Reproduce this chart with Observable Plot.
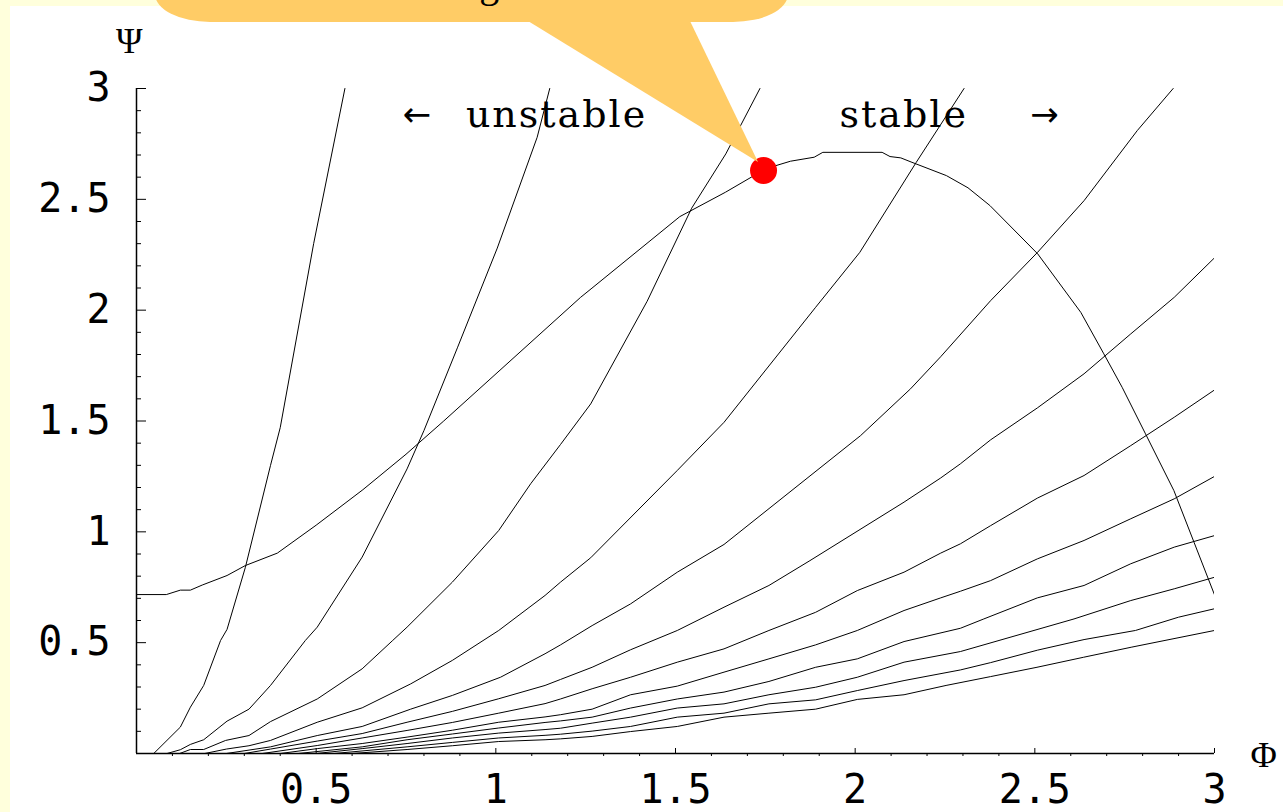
<!DOCTYPE html>
<html><head><meta charset="utf-8">
<script src="https://cdn.jsdelivr.net/npm/d3@7"></script>
<script src="https://cdn.jsdelivr.net/npm/@observablehq/plot@0.6"></script>
<style>
html,body{margin:0;padding:0;background:#ffffdc;overflow:hidden;width:1283px;height:812px;}
#panel{position:absolute;left:10px;top:6px;width:1273px;height:806px;background:#fff;}
#callout{position:absolute;left:0;top:0;pointer-events:none;}
</style></head><body>
<div id="panel"></div>
<svg id="callout" width="1283" height="812"></svg>
<script>
// tick values
const ticksMajor = [0.5, 1, 1.5, 2, 2.5, 3];
const ticksMinor = [0.1,0.2,0.3,0.4,0.6,0.7,0.8,0.9,1.1,1.2,1.3,1.4,1.6,1.7,1.8,1.9,2.1,2.2,2.3,2.4,2.6,2.7,2.8,2.9];

// stability boundary [Phi, Psi]
const boundary = [[0,0.717],[0.083,0.717],[0.122,0.737],[0.15,0.737],[0.183,0.76],[0.252,0.803],[0.303,0.848],[0.392,0.904],[0.50,1.03],[0.63,1.19],[0.75,1.35],[0.855,1.50],[1.236,2.058],[1.265,2.096],[1.512,2.422],[1.639,2.532],[1.711,2.60],[1.771,2.648],[1.82,2.672],[1.886,2.69],[1.91,2.712],[2.075,2.712],[2.097,2.693],[2.127,2.687],[2.158,2.667],[2.254,2.607],[2.314,2.552],[2.375,2.472],[2.508,2.254],[2.628,1.99],[2.692,1.803],[2.743,1.652],[2.808,1.442],[2.887,1.186],[2.943,0.953],[3.0,0.716]];

// fan of curves [Phi, Psi]
const fan1 = [[0,0],[0.048,0],[0.122,0.119],[0.15,0.209],[0.187,0.307],[0.234,0.51],[0.252,0.56],[0.303,0.84],[0.373,1.30],[0.40,1.47],[0.493,2.30],[0.58,3.0]];
const fan2 = [[0,0],[0.085,0],[0.122,0.017],[0.15,0.041],[0.187,0.062],[0.252,0.146],[0.313,0.2],[0.373,0.307],[0.47,0.51],[0.503,0.57],[0.628,0.886],[0.753,1.284],[0.80,1.457],[0.893,1.83],[1.004,2.28],[1.115,2.78],[1.15,3.0]];
const fan3 = [[0,0],[0.12,0],[0.15,0.018],[0.187,0.018],[0.248,0.059],[0.313,0.081],[0.373,0.144],[0.503,0.246],[0.628,0.382],[0.713,0.51],[0.753,0.57],[0.879,0.773],[1.008,1.006],[1.097,1.217],[1.18,1.394],[1.264,1.577],[1.421,2.04],[1.545,2.46],[1.64,2.705],[1.735,3.0]];
const fan4 = [[0,0],[0.19,0],[0.25,0.02],[0.313,0.035],[0.373,0.059],[0.503,0.141],[0.628,0.206],[0.763,0.314],[0.879,0.42],[1.008,0.555],[1.137,0.713],[1.18,0.773],[1.264,0.883],[1.505,1.277],[1.635,1.494],[1.89,2.013],[2.013,2.261],[2.17,2.667],[2.303,3.0]];
const fan5 = [[0,0],[0.25,0],[0.373,0.03],[0.503,0.081],[0.628,0.122],[0.763,0.2],[0.879,0.262],[1.013,0.344],[1.137,0.45],[1.18,0.49],[1.268,0.577],[1.375,0.675],[1.505,0.818],[1.635,0.943],[2.015,1.434],[2.154,1.645],[2.238,1.79],[2.377,2.043],[2.507,2.26],[2.637,2.494],[2.785,2.81],[2.885,3.0]];
const fan6 = [[0,0],[0.30,0],[0.373,0.02],[0.503,0.056],[0.628,0.09],[0.753,0.141],[0.879,0.19],[1.008,0.247],[1.137,0.307],[1.18,0.334],[1.268,0.389],[1.375,0.468],[1.505,0.555],[1.635,0.66],[1.76,0.758],[1.874,0.87],[2.136,1.134],[2.238,1.243],[2.293,1.307],[2.377,1.415],[2.507,1.559],[2.637,1.713],[2.767,1.893],[2.888,2.058],[3.0,2.236]];
const fan7 = [[0,0],[0.35,0],[0.503,0.036],[0.628,0.07],[0.753,0.104],[0.879,0.14],[1.008,0.182],[1.137,0.225],[1.18,0.246],[1.268,0.292],[1.375,0.344],[1.505,0.412],[1.635,0.472],[1.76,0.555],[1.89,0.637],[2.006,0.735],[2.136,0.818],[2.238,0.904],[2.293,0.946],[2.377,1.028],[2.507,1.152],[2.637,1.254],[2.767,1.389],[2.888,1.517],[3.0,1.64]];
const fan8 = [[0,0],[0.40,0],[0.503,0.022],[0.628,0.045],[0.753,0.074],[0.879,0.105],[1.008,0.141],[1.137,0.165],[1.18,0.175],[1.268,0.2],[1.375,0.265],[1.505,0.304],[1.635,0.367],[1.76,0.427],[1.89,0.49],[2.006,0.555],[2.136,0.645],[2.238,0.702],[2.293,0.732],[2.377,0.78],[2.507,0.878],[2.637,0.961],[2.767,1.059],[2.888,1.149],[3.0,1.25]];
const fan9 = [[0,0],[0.45,0],[0.628,0.03],[0.753,0.062],[0.879,0.088],[1.008,0.115],[1.137,0.14],[1.18,0.147],[1.268,0.164],[1.375,0.205],[1.505,0.246],[1.635,0.277],[1.76,0.325],[1.89,0.389],[2.006,0.427],[2.136,0.505],[2.293,0.565],[2.358,0.607],[2.507,0.702],[2.637,0.758],[2.767,0.856],[2.888,0.931],[3.0,0.983]];
const fan10 = [[0,0],[0.5,0],[0.628,0.022],[0.753,0.045],[0.879,0.07],[1.008,0.092],[1.137,0.108],[1.18,0.114],[1.268,0.137],[1.375,0.164],[1.505,0.205],[1.635,0.224],[1.76,0.265],[1.89,0.299],[2.006,0.344],[2.136,0.412],[2.293,0.46],[2.609,0.607],[2.767,0.69],[2.888,0.743],[3.0,0.795]];
const fan11 = [[0,0],[0.55,0],[0.753,0.03],[0.879,0.05],[1.008,0.07],[1.137,0.082],[1.18,0.087],[1.268,0.101],[1.375,0.122],[1.505,0.164],[1.635,0.182],[1.76,0.224],[1.89,0.242],[2.006,0.284],[2.136,0.329],[2.293,0.377],[2.377,0.41],[2.507,0.466],[2.637,0.514],[2.78,0.555],[2.90,0.615],[3.0,0.653]];
const fan12 = [[0,0],[0.6,0],[0.753,0.018],[0.879,0.035],[1.008,0.054],[1.137,0.062],[1.18,0.066],[1.268,0.077],[1.375,0.099],[1.505,0.122],[1.635,0.164],[1.76,0.182],[1.89,0.2],[2.006,0.244],[2.136,0.265],[2.253,0.307],[2.377,0.347],[2.506,0.389],[2.635,0.434],[2.77,0.48],[3.0,0.555]];

const markedPoint = [[1.745, 2.63]];
const calloutText = "Tangent";

const curves = [["boundary", boundary], ["f1", fan1], ["f2", fan2], ["f3", fan3], ["f4", fan4], ["f5", fan5], ["f6", fan6], ["f7", fan7], ["f8", fan8], ["f9", fan9], ["f10", fan10], ["f11", fan11], ["f12", fan12]];
const rows = curves.flatMap(([name, pts]) => pts.map(([phi, psi]) => ({curve: name, phi, psi})));

const fmt = d => String(d);
const plot = Plot.plot({
  width: 1273, height: 806,
  marginLeft: 126, marginRight: 69, marginTop: 82, marginBottom: 59,
  x: {domain: [0, 3], axis: null},
  y: {domain: [0, 3], axis: null},
  style: {fontFamily: "DejaVu Sans Mono", fontSize: "40px", background: "white", overflow: "visible", color: "black"},
  marks: [
    Plot.line(rows, {x: "phi", y: "psi", z: "curve", stroke: "black", strokeWidth: 1, clip: true}),
    Plot.ruleX([0], {stroke: "black", strokeWidth: 1.5}),
    Plot.ruleY([0], {stroke: "black", strokeWidth: 1.5}),
    Plot.axisY(ticksMajor, {tickSize: -10, tickPadding: 36, tickFormat: fmt, fontSize: 40, label: null}),
    Plot.axisY(ticksMinor, {tickSize: -5, tickFormat: () => "", label: null}),
    Plot.axisX(ticksMajor, {tickSize: -5, tickPadding: 26, tickFormat: fmt, fontSize: 40, label: null}),
    Plot.axisX(ticksMinor, {tickSize: 3, tickFormat: () => "", label: null}),
    Plot.dot(markedPoint, {x: d => d[0], y: d => d[1], r: 13.5, fill: "#ff0000"}),
    Plot.text(["Ψ"], {x: -0.02, y: 3.21, text: d => d, fontFamily: "Liberation Serif", fontSize: 36, lineAnchor: "middle"}),
    Plot.text(["Φ"], {x: 3.1, y: -0.01, text: d => d, fontFamily: "Liberation Serif", fontSize: 36, lineAnchor: "middle", textAnchor: "start"}),
    Plot.text(["←"], {x: 0.78, y: 2.88, text: d => d, fontFamily: "DejaVu Sans", fontSize: 34, lineAnchor: "middle"}),
    Plot.text(["unstable"], {x: 1.169, y: 2.88, text: d => d, fontFamily: "DejaVu Serif", fontSize: 38, lineAnchor: "middle"}),
    Plot.text(["stable"], {x: 2.135, y: 2.88, text: d => d, fontFamily: "DejaVu Serif", fontSize: 38, lineAnchor: "middle"}),
    Plot.text(["→"], {x: 2.527, y: 2.88, text: d => d, fontFamily: "DejaVu Sans", fontSize: 34, lineAnchor: "middle"})
  ]
});
document.getElementById("panel").appendChild(plot);
// typewriter-like spacing for the region words
d3.select(plot).selectAll("text")
  .filter(function() { return this.textContent === "unstable" || this.textContent === "stable"; })
  .style("letter-spacing", "2px");

// callout balloon pointing at the marked point
const sx = plot.scale("x"), sy = plot.scale("y");
const tipX = 10 + sx.apply(markedPoint[0][0]) - 5;
const tipY = 6 + sy.apply(markedPoint[0][1]) - 8;
const svg = d3.select("#callout");
svg.append("rect").attr("x", 155).attr("y", -40).attr("width", 633).attr("height", 62)
  .attr("rx", 55).attr("ry", 28).attr("fill", "#ffcc66");
svg.append("path").attr("d", `M528,21L690,21L${tipX},${tipY}Z`).attr("fill", "#ffcc66");
svg.append("text").attr("x", 484).attr("y", -3).attr("text-anchor", "middle")
  .attr("font-family", "Liberation Serif").attr("font-size", 40).attr("fill", "black").text(calloutText);
</script>
</body></html>
